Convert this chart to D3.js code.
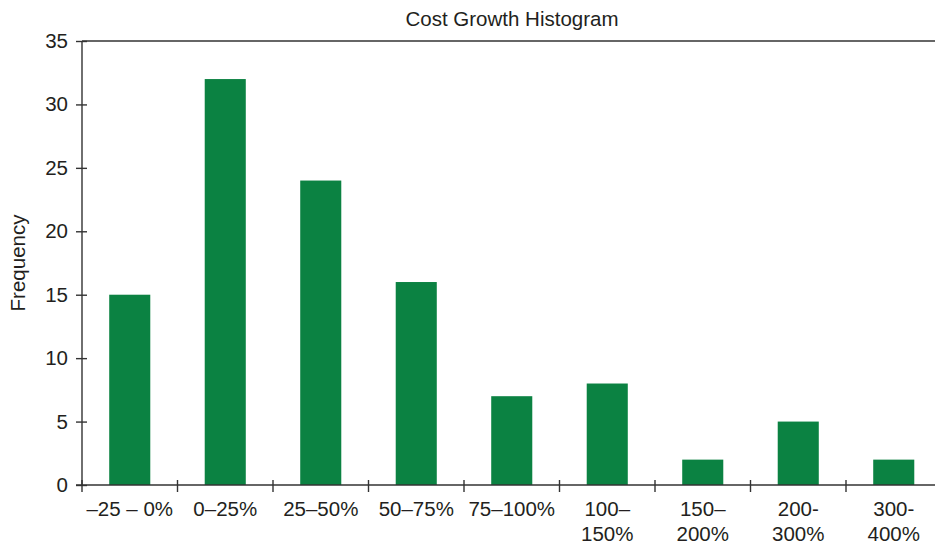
<!DOCTYPE html>
<html>
<head>
<meta charset="utf-8">
<script src="https://cdn.jsdelivr.net/npm/d3@7"></script>
<style>
  html, body { margin: 0; padding: 0; background: #fff; }
  svg { display: block; }
  text { font-family: "Liberation Sans", Arial, sans-serif; fill: #231f20; }
</style>
</head>
<body>
<svg id="chart" width="935" height="543"></svg>
<script>
// Cost growth bins and how many projects fall in each
const categories = ["–25 – 0%", "0–25%", "25–50%", "50–75%", "75–100%", "100–150%", "150–200%", "200-300%", "300-400%"];
const categoryLines = [["–25 – 0%"], ["0–25%"], ["25–50%"], ["50–75%"], ["75–100%"], ["100–", "150%"], ["150–", "200%"], ["200-", "300%"], ["300-", "400%"]];
const frequencies = [15, 32, 24, 16, 7, 8, 2, 5, 2];
const yTicks = [0, 5, 10, 15, 20, 25, 30, 35];

const svg = d3.select("#chart");
const plotLeft = 82, plotTop = 41, plotBottom = 485, bandW = 95.5;
const plotRight = plotLeft + bandW * categories.length;
const axisColor = "#333";
const fontSize = "20.5px";

const x = d3.scaleBand().domain(categories).range([plotLeft, plotRight]).padding(0);
const y = d3.scaleLinear().domain([0, 35]).range([plotBottom, plotTop]);

// Title
svg.append("text")
  .attr("x", 512).attr("y", 26)
  .attr("text-anchor", "middle")
  .style("font-size", fontSize)
  .text("Cost Growth Histogram");

// Y axis label
svg.append("text")
  .attr("transform", `translate(25,${(plotTop + plotBottom) / 2}) rotate(-90)`)
  .attr("text-anchor", "middle")
  .style("font-size", fontSize)
  .text("Frequency");

// Bars
const barW = x.bandwidth() * 0.43;
svg.append("g").selectAll("rect")
  .data(frequencies)
  .join("rect")
  .attr("x", (d, i) => x(categories[i]) + (x.bandwidth() - barW) / 2)
  .attr("y", d => y(d))
  .attr("width", barW)
  .attr("height", d => y(0) - y(d))
  .attr("fill", "#0b8242");

// Top frame line
svg.append("line")
  .attr("x1", plotLeft).attr("x2", plotRight)
  .attr("y1", y(35)).attr("y2", y(35))
  .attr("stroke", axisColor).attr("stroke-width", 1.4);

// Y axis with ticks crossing the line
const yAxis = svg.append("g").attr("transform", `translate(${plotLeft},0)`)
  .call(d3.axisLeft(y).tickValues(yTicks).tickSize(6).tickPadding(8));
yAxis.select(".domain").attr("stroke", axisColor).attr("stroke-width", 1.4)
  .attr("d", `M0,${y(0)}V${y(35)}`);
yAxis.selectAll(".tick line").attr("stroke", axisColor).attr("stroke-width", 1.4)
  .attr("x1", 5).attr("x2", -6);
yAxis.selectAll(".tick text").style("font-size", fontSize).attr("fill", "#231f20")
  .attr("font-family", "Liberation Sans, Arial, sans-serif");

// X axis line
svg.append("line")
  .attr("x1", plotLeft - 6).attr("x2", plotRight)
  .attr("y1", y(0)).attr("y2", y(0))
  .attr("stroke", axisColor).attr("stroke-width", 1.4);

// Boundary ticks between bins
const bounds = categories.map(c => x(c)).concat([plotRight]);
svg.append("g").selectAll("line")
  .data(bounds)
  .join("line")
  .attr("x1", d => d).attr("x2", d => d)
  .attr("y1", y(0) - 5).attr("y2", y(0) + 7)
  .attr("stroke", axisColor).attr("stroke-width", 1.4);

// Category labels
const labels = svg.append("g").selectAll("text")
  .data(categories)
  .join("text")
  .attr("x", d => x(d) + x.bandwidth() / 2)
  .attr("y", 516)
  .attr("text-anchor", "middle")
  .style("font-size", fontSize);
labels.each(function(d, i) {
  const t = d3.select(this);
  categoryLines[i].forEach((line, j) => {
    t.append("tspan")
      .attr("x", x(d) + x.bandwidth() / 2)
      .attr("dy", j === 0 ? 0 : 25)
      .text(line);
  });
});
</script>
</body>
</html>
